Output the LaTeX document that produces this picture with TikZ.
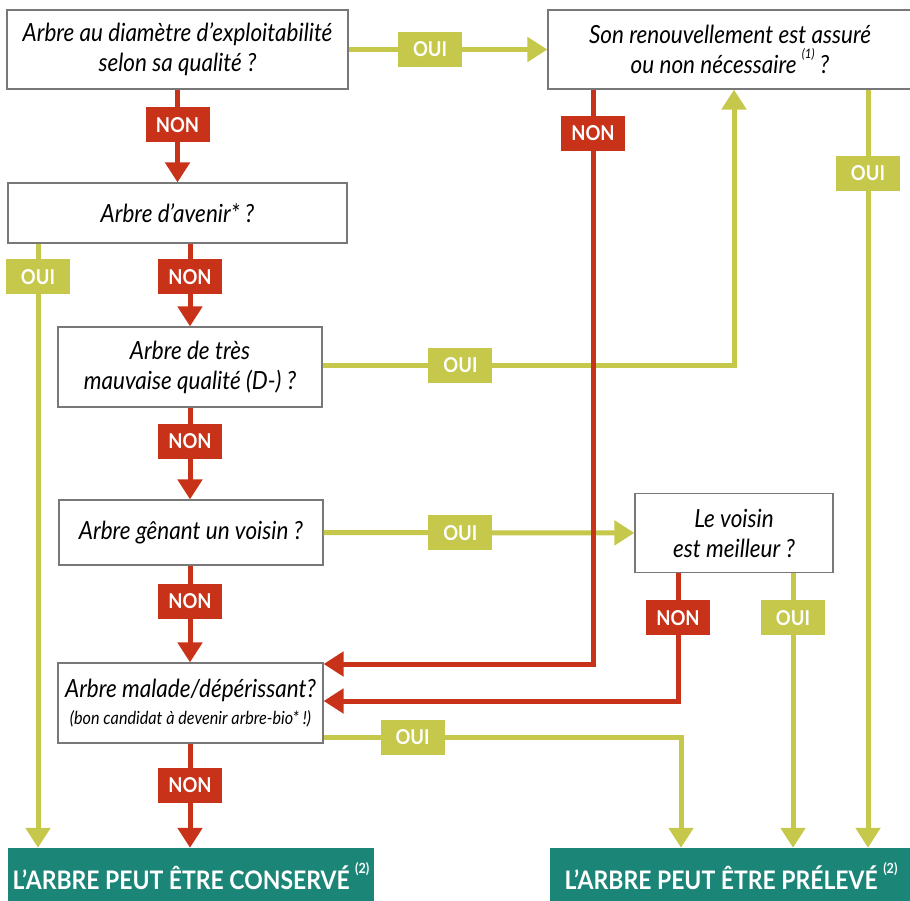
\documentclass[tikz,border=0pt]{standalone}
\usepackage{fontspec}
\setmainfont{Lato}[FakeStretch=0.9]
\usepackage{tikz}
\usetikzlibrary{arrows.meta}
\definecolor{nonred}{RGB}{200,50,25}
\definecolor{ouigreen}{RGB}{197,200,75}
\definecolor{verdictteal}{RGB}{27,133,120}
\definecolor{boxgray}{RGB}{120,120,120}
\tikzstyle{question} = [
    draw=boxgray,
    line width=1.2pt,
    fill=white,
    align=center,
    inner sep=0pt,
    font=\fontsize{25}{30}\selectfont\itshape
]
\tikzstyle{verdict} = [
    fill=verdictteal,
    text=white,
    inner sep=0pt,
    font=\fontsize{25.5}{25.5}\selectfont\bfseries
]
\tikzstyle{ouitran} = [
    draw=ouigreen,
    line width=5pt,
    -{Triangle[width=24pt,length=20pt]}
]
\tikzstyle{nontran} = [
    draw=nonred,
    line width=5pt,
    -{Triangle[width=24pt,length=20pt]}
]
\tikzstyle{ouilab} = [
    fill=ouigreen,
    text=white,
    inner sep=0pt,
    minimum width=64pt,
    minimum height=35pt,
    font=\fontsize{20.5}{20.5}\selectfont\bfseries
]
\tikzstyle{nonlab} = [
    ouilab,
    fill=nonred
]
\newcommand{\renvoi}[2]{\raisebox{.6em}{\fontsize{#1}{#1}\selectfont (#2)}}

\begin{document}
\begin{tikzpicture}[x=1pt, y=-1pt]

\useasboundingbox (0,0) rectangle (910,901);

\node[question, minimum width=341pt, minimum height=79pt] (q1)     at (177.5,49.5) {Arbre au diamètre d’exploitabilité\\selon sa qualité ?};
\node[question, minimum width=364pt, minimum height=79pt] (renew)  at (730,49.5)   {Son renouvellement est assuré\\ou non nécessaire \renvoi{13}{1} ?};
\node[question, minimum width=339pt, minimum height=60pt] (avenir) at (177.5,213)  {Arbre d’avenir* ?};
\node[question, minimum width=264pt, minimum height=80pt] (bad)    at (190,367)    {Arbre de très\\mauvaise qualité (D-) ?};
\node[question, minimum width=264pt, minimum height=65pt] (gene)   at (191,532.5)  {Arbre gênant un voisin ?};
\node[question, minimum width=198pt, minimum height=79pt] (voisin) at (734,533)    {Le voisin\\est meilleur ?};
\node[question, minimum width=265pt, minimum height=80pt] (malade) at (190.5,703)  {Arbre malade/dépérissant?\\[-3pt]{\fontsize{18}{22}\selectfont (bon candidat à devenir arbre-bio* !)}};

\node[verdict, minimum width=366pt, minimum height=56pt] (keep) at (191,876) {L’ARBRE PEUT ÊTRE CONSERVÉ \renvoi{14}{2}};
\node[verdict, minimum width=362pt, minimum height=56pt] (cut)  at (731,876) {L’ARBRE PEUT ÊTRE PRÉLEVÉ \renvoi{14}{2}};

% columns and rows of the elbows
\coordinate (c0) at (38,0);
\coordinate (c1) at (593,0);
\coordinate (c2) at (734,0);
\coordinate (c3) at (868,0);
\coordinate (c4) at (678,0);
\coordinate (c5) at (793,0);
\coordinate (c6) at (681,0);
\coordinate (r0) at (0,365);
\coordinate (r1) at (0,664);
\coordinate (r2) at (0,701);
\coordinate (r3) at (0,737);

% OUI
\draw[ouitran] (q1) -- node[ouilab, pos=0.41] {OUI} (renew);
\draw[ouitran] (renew.south -| c3) -- node[ouilab, pos=0.11] {OUI} (cut.north -| c3);
\draw[ouitran] (avenir.south -| c0) -- node[ouilab, pos=0.055] {OUI} (keep.north -| c0);
\draw[ouitran] (bad.east |- r0) -- node[ouilab, pos=0.335] {OUI} (c2 |- r0) -- (renew.south -| c2);
\draw[ouitran] (gene) -- node[ouilab, pos=0.44] {OUI} (voisin);
\draw[ouitran] (voisin.south -| c5) -- node[ouilab, pos=0.162] {OUI} (cut.north -| c5);
\draw[ouitran] (malade.east |- r3) -- node[ouilab, pos=0.249] {OUI} (c6 |- r3) -- (cut.north -| c6);

% NON
\draw[nontran] (q1) -- node[nonlab, pos=0.378] {NON} (avenir.north -| q1);
\draw[nontran] (avenir.south -| bad) -- node[nonlab, pos=0.4] {NON} (bad);
\draw[nontran] (bad) -- node[nonlab, pos=0.37] {NON} (gene.north -| bad);
\draw[nontran] (gene.south -| bad) -- node[nonlab, pos=0.367] {NON} (malade.north -| bad);
\draw[nontran] (malade.south -| bad) -- node[nonlab, pos=0.4] {NON} (keep.north -| bad);
\draw[nontran] (renew.south -| c1) -- node[nonlab, pos=0.0757] {NON} (c1 |- r1) -- (malade.east |- r1);
\draw[nontran] (voisin.south -| c4) -- node[nonlab, pos=0.35] {NON} (c4 |- r2) -- (malade.east |- r2);

\end{tikzpicture}
\end{document}
